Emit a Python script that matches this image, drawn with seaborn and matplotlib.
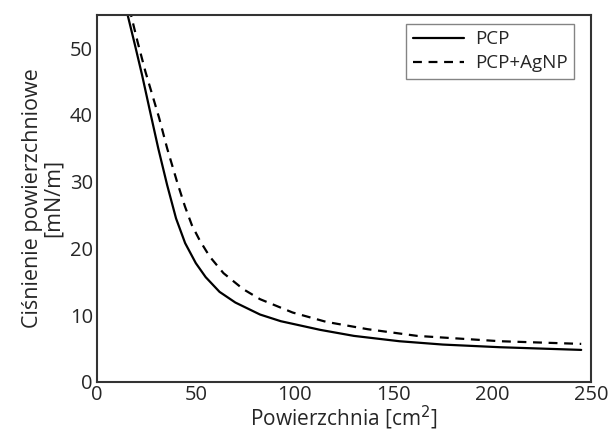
import matplotlib
matplotlib.use("Agg")
import matplotlib.pyplot as plt
import seaborn as sns
import pandas as pd

pcp_x = [15.0, 15.5, 19.2, 22.8, 26.5, 31, 35.5, 40, 44.6, 50, 55, 62, 70, 82.5, 93, 113, 130, 153, 175, 204, 245]
pcp_y = [56, 55, 50.5, 46, 41, 35, 29.5, 24.5, 20.8, 17.8, 15.7, 13.5, 11.9, 10.1, 9.1, 7.8, 6.9, 6.1, 5.6, 5.2, 4.8]
agnp_x = [16.6, 17.2, 20.5, 24.5, 28.5, 31.5, 35.5, 40.5, 44.5, 48, 52, 57, 64, 74, 82.5, 99, 116, 137, 162, 204, 245]
agnp_y = [56, 55, 51, 46.5, 42.5, 39.5, 35, 30, 26.3, 23.5, 21.2, 18.8, 16.3, 13.9, 12.4, 10.4, 9.0, 7.9, 6.9, 6.1, 5.7]
labels = ["PCP", "PCP+AgNP"]

df = pd.concat([
    pd.DataFrame({"x": pcp_x, "y": pcp_y, "s": labels[0]}),
    pd.DataFrame({"x": agnp_x, "y": agnp_y, "s": labels[1]}),
])

sns.set_style("white")
plt.rcParams['font.family'] = ['Open Sans', 'DejaVu Sans']

fig = plt.figure(figsize=(6.10, 4.38), dpi=100)
ax = fig.add_axes([0.159, 0.128, 0.81, 0.838])
sns.lineplot(data=df, x="x", y="y", style="s", color="black", linewidth=1.6,
             dashes={labels[0]: "", labels[1]: (4, 3)}, ax=ax, sort=False, estimator=None)
ax.set_xlim(0, 250)
ax.set_ylim(0, 55)
ax.set_xticks([0, 50, 100, 150, 200, 250])
ax.set_yticks([0, 10, 20, 30, 40, 50])
ax.tick_params(labelsize=14.5, length=0)
ax.tick_params(axis="x", pad=2)
ax.tick_params(axis="y", pad=3)
ax.set_xlabel("Powierzchnia [cm$^2$]", fontsize=15, labelpad=-1)
ax.set_ylabel("Ciśnienie powierzchniowe\n[mN/m]", fontsize=15.5, labelpad=4, linespacing=1.0)
for sp in ax.spines.values():
    sp.set_color("#333333")
    sp.set_linewidth(1.5)
leg = ax.legend(loc="upper right", bbox_to_anchor=(0.9656, 0.9755), borderaxespad=0,
                fontsize=13.5, frameon=True, fancybox=False,
                handlelength=2.7, borderpad=0.35, labelspacing=0.3, handletextpad=0.6)
leg.get_frame().set_edgecolor("#666666")
leg.get_frame().set_linewidth(1.0)
fig.savefig("out.png", dpi=100)
